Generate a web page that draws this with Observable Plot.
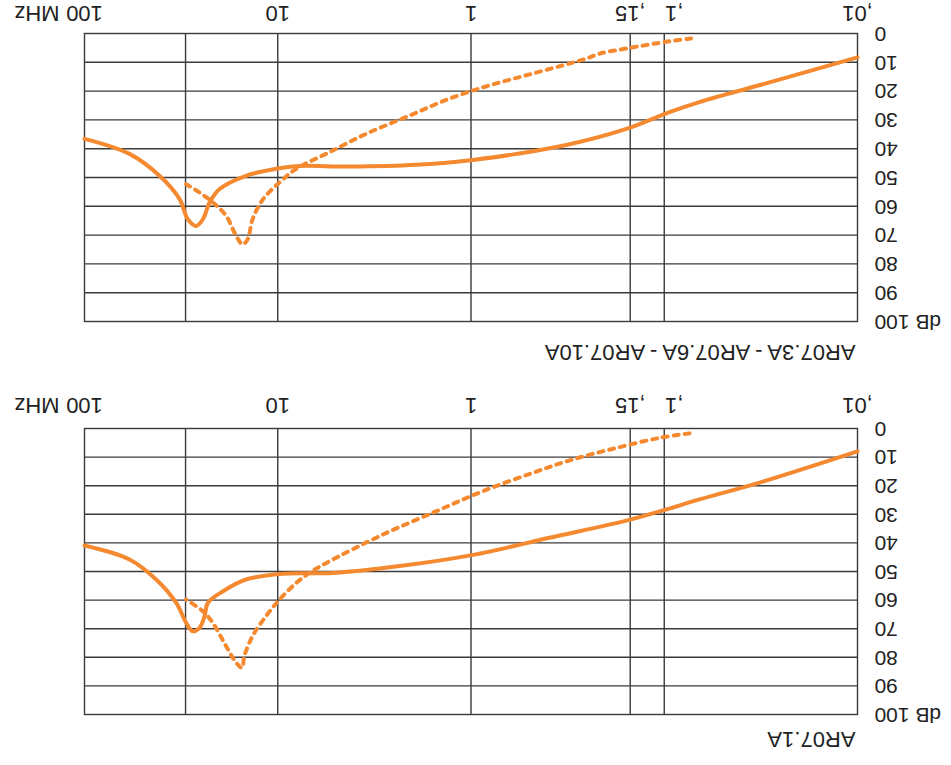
<!DOCTYPE html>
<html><head><meta charset="utf-8">
<script src="https://cdn.jsdelivr.net/npm/d3@7"></script>
<script src="https://cdn.jsdelivr.net/npm/@observablehq/plot@0.6"></script>
<style>
html,body{margin:0;padding:0;background:#fff;}
#root{position:relative;width:951px;height:765px;transform:rotate(180deg);overflow:hidden;background:#fff;}
#root svg{display:block;}
#root svg text{font-family:"Liberation Sans",Arial,sans-serif;}
</style></head><body><div id="root"></div>
<script>
// Panel titles
const panelTitles = ["AR07.1A", "AR07.3A - AR07.6A - AR07.10A"];
// Axis ticks (frequency in MHz, attenuation in dB)
const xTicks = [0.01, 0.15, 1, 10, 30, 100];
const xTickLabels = [",01", ",15", "1", "10", "30", "100"];
const xTickShifted = [0.1];
const xTickShiftedLabels = [",1"];
const xGrid = [0.1, 0.15, 1, 10, 30];
const xUnit = "MHz";
const yTicks = [0, 10, 20, 30, 40, 50, 60, 70, 80, 90, 100];
const yTickLabels = ["0", "10", "20", "30", "40", "50", "60", "70", "80", "90", "dB 100"];

// AR07.1A – solid curve
const solidFreq1 = [0.01, 0.0321, 0.0658, 0.0975, 0.161, 0.393, 0.959, 2.34, 5.19, 9.44, 14.6, 19.2, 23.0, 23.9, 25.4, 27.5, 29.8, 33.5, 42.6, 58.5, 100];
const solidDb1   = [8.0, 18.9, 24.8, 28.3, 32.4, 38.2, 44.1, 48.1, 50.5, 50.8, 52.8, 56.9, 61.0, 65.6, 69.7, 70.9, 67.9, 61.0, 52.8, 45.8, 40.9];
// AR07.1A – dotted curve
const dotFreq1 = [0.074, 0.106, 0.177, 0.297, 0.479, 0.867, 1.51, 2.86, 5.6, 6.85, 8.02, 9.79, 11.5, 13.5, 14.9, 15.3, 16.4, 18.5, 21.7, 24.4, 29.8];
const dotDb1   = [1.7, 3.3, 6.8, 10.8, 15.5, 21.9, 28.9, 37.1, 47.0, 50.5, 54.0, 59.8, 65.6, 72.6, 79.6, 83.7, 81.9, 76.1, 67.9, 63.9, 59.8];

// AR07.3A - AR07.6A - AR07.10A – solid curve
const solidFreq2 = [0.01, 0.0316, 0.0658, 0.094, 0.157, 0.321, 0.583, 0.955, 1.92, 4.26, 7.73, 9.8, 14.6, 20.0, 22.5, 24.4, 26.4, 29.2, 32.2, 40.9, 58.5, 100];
const solidDb2   = [8.3, 17.8, 23.8, 27.3, 33.1, 38.7, 41.8, 43.8, 45.6, 46.2, 46.0, 46.8, 49.4, 54.0, 58.6, 64.5, 66.8, 64.5, 57.5, 49.4, 41.8, 36.6];
// AR07.3A - AR07.6A - AR07.10A – dotted curve
const dotFreq2 = [0.0726, 0.094, 0.157, 0.216, 0.253, 0.479, 0.802, 1.29, 2.08, 3.48, 5.40, 8.02, 9.79, 11.9, 13.5, 14.3, 15.2, 16.4, 18.5, 21.7, 25.4, 29.8];
const dotDb2   = [1.7, 2.7, 5.2, 7.0, 8.7, 13.9, 18.0, 22.6, 28.5, 34.8, 41.2, 47.0, 51.7, 57.5, 64.5, 71.4, 73.2, 70.3, 63.3, 58.6, 55.2, 52.3];

const orange = "#f5892f";
const gridColor = "#3a3a3a";
const font = "'Liberation Sans', Arial, sans-serif";

function toRows(fs, ds) { return fs.map((f, i) => ({f, db: ds[i]})); }

function panel(title, solid, dotted, opts) {
  return Plot.plot({
    width: 951,
    height: opts.height,
    marginLeft: 93,
    marginRight: 85,
    marginTop: opts.marginTop,
    marginBottom: opts.marginBottom,
    x: {type: "log", domain: [0.01, 100], label: null},
    y: {domain: [0, 100], label: null},
    style: {fontFamily: font, color: "#222", background: "white", overflow: "visible"},
    marks: [
      Plot.ruleX(xGrid, {stroke: gridColor, strokeWidth: 1.4}),
      Plot.ruleY(yTicks.slice(1, -1), {stroke: gridColor, strokeWidth: 1.4}),
      Plot.frame({stroke: gridColor, strokeWidth: 1.4}),
      Plot.line(solid, {x: "f", y: "db", stroke: orange, strokeWidth: 4, curve: "catmull-rom"}),
      Plot.line(dotted, {x: "f", y: "db", stroke: orange, strokeWidth: 4, strokeDasharray: "5,6", curve: "catmull-rom"}),
      Plot.axisY({ticks: yTicks, tickSize: 0, tickPadding: 17, fontSize: 21,
        tickFormat: d => yTickLabels[yTicks.indexOf(d)]}),
      Plot.axisX({ticks: xTicks, tickSize: 0, tickPadding: opts.xPad, fontSize: 22,
        tickFormat: d => xTickLabels[xTicks.indexOf(d)]}),
      Plot.axisX({ticks: xTickShifted, tickSize: 0, tickPadding: opts.xPad, fontSize: 22, dx: -10,
        tickFormat: d => xTickShiftedLabels[xTickShifted.indexOf(d)]}),
      Plot.text([xUnit], {x: () => 100, text: d => d, frameAnchor: "bottom", lineAnchor: "top",
        dy: opts.xPad, dx: 25, textAnchor: "start", fontSize: 22}),
      Plot.text([title], {text: d => d, frameAnchor: "top-left", lineAnchor: "bottom",
        dy: opts.titleDy, dx: 2, textAnchor: "start", fontSize: 22})
    ]
  });
}

const root = document.getElementById("root");
root.append(panel(panelTitles[0], toRows(solidFreq1, solidDb1), toRows(dotFreq1, dotDb1),
  {height: 392, marginTop: 50, marginBottom: 56, xPad: 15, titleDy: -17}));
root.append(panel(panelTitles[1], toRows(solidFreq2, solidDb2), toRows(dotFreq2, dotDb2),
  {height: 373, marginTop: 51, marginBottom: 34, xPad: 12, titleDy: -23}));
</script></body></html>
